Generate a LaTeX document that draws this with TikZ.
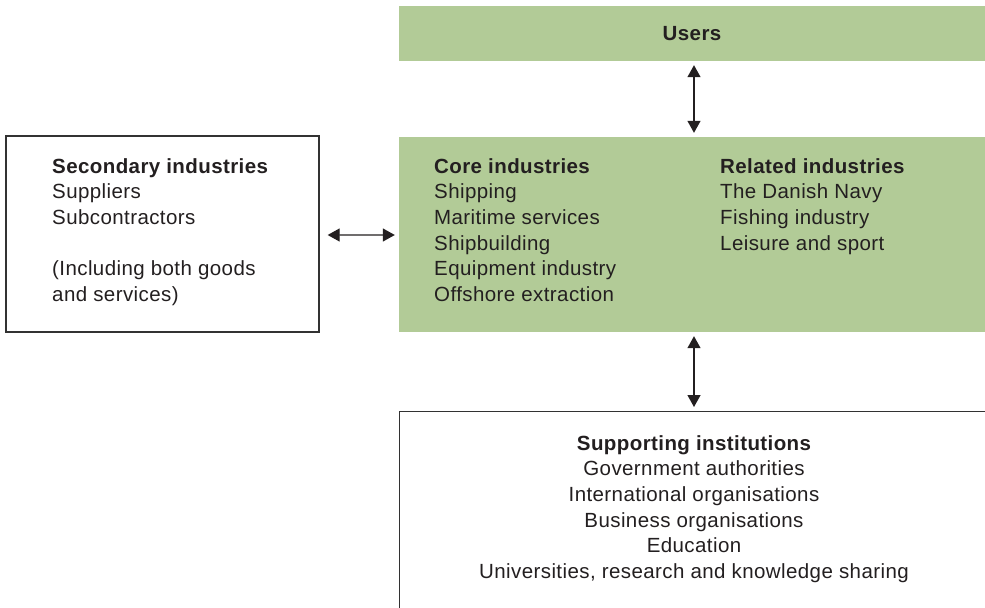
\documentclass[tikz,border=0pt]{standalone}
\usepackage{fontspec}
\setmainfont{Liberation Sans}[LetterSpace=2]
\usetikzlibrary{arrows.meta}
\definecolor{boxgreen}{RGB}{178,203,151}
\definecolor{ink}{RGB}{35,31,32}
\definecolor{frame}{RGB}{50,50,50}
\begin{document}
\begin{tikzpicture}[x=1bp,y=-1bp,
  every node/.style={text=ink,font=\fontsize{20.5bp}{25.6bp}\selectfont},
  greenbox/.style={fill=boxgreen,draw=none,inner sep=0pt,rectangle},
  whitebox/.style={fill=white,draw=frame,line width=1.3bp,inner sep=0pt,rectangle},
  txt/.style={inner sep=0pt,align=left,anchor=north west},
  arr/.style={draw=ink,line width=1.3bp,{Triangle[length=12bp,width=13bp]}-{Triangle[length=12bp,width=13bp]}}]
  \useasboundingbox (0,0) rectangle (985,608);

  % boxes
  \node[greenbox,minimum width=586bp,minimum height=55bp] (users) at (692,33.5) {\bfseries Users};
  \node[greenbox,minimum width=586bp,minimum height=195bp] (core) at (692,234.5) {};
  \node[whitebox,minimum width=313bp,minimum height=196bp] (sec) at (162.5,234) {};
  \node[whitebox,minimum width=620bp,minimum height=230bp,anchor=north west] (support) at (399,411) {};

  % box texts
  \node[txt] (sectext) at (52,158.2) {\bfseries Secondary industries\\Suppliers\\Subcontractors\\ ~\\(Including both goods\\and services)};
  \node[txt] (coretext) at (434,158.2) {\bfseries Core industries\\Shipping\\Maritime services\\Shipbuilding\\Equipment industry\\Offshore extraction};
  \node[txt] (reltext) at (720,158.2) {\bfseries Related industries\\The Danish Navy\\Fishing industry\\Leisure and sport};
  \node[inner sep=0pt,align=center,anchor=north] (suptext) at (694,435.2) {\bfseries Supporting institutions\\Government authorities\\International organisations\\Business organisations\\Education\\Universities, research and knowledge sharing};

  % connectors
  \draw[arr] ([xshift=2bp,yshift=-4bp]users.south) -- ([xshift=2bp,yshift=4bp]core.north);
  \draw[arr] ([xshift=8bp,yshift=-1bp]sec.east) -- ([xshift=-4bp,yshift=-0.5bp]core.west);
  \draw[arr] ([xshift=2bp,yshift=-4bp]core.south) -- ([xshift=2bp,yshift=4bp]core.south |- support.north);
\end{tikzpicture}
\end{document}
